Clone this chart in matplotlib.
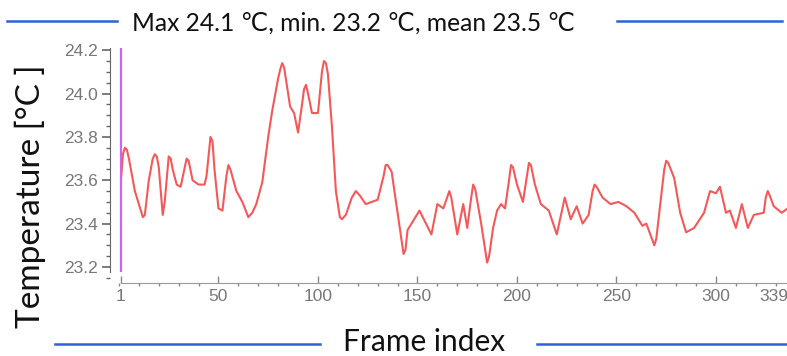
import numpy as np
import matplotlib
matplotlib.use("Agg")
import matplotlib.pyplot as plt
from matplotlib.ticker import MultipleLocator
from matplotlib.lines import Line2D
import matplotlib.transforms as mtransforms

# frame index / temperature
frames = [1, 2, 3, 4, 5, 8, 12, 13, 15, 17, 18, 19, 20, 22, 23, 25, 26, 27, 29, 31,
          34, 35, 37, 40, 43, 44, 46, 47, 48, 50, 52, 54, 55, 56, 59, 62, 65, 67, 69, 72,
          75, 77, 80, 81, 82, 83, 84, 86, 88, 90, 92, 93, 94, 95, 97, 100, 102, 103, 104, 105,
          107, 109, 111, 112, 114, 117, 119, 121, 124, 130, 133, 134, 135, 137, 140, 143, 144, 145, 151, 157,
          160, 163, 166, 167, 170, 173, 175, 177, 178, 179, 182, 185, 186, 188, 190, 192, 194, 196, 197, 198,
          200, 203, 205, 206, 207, 209, 212, 216, 220, 224, 227, 230, 233, 236, 238, 239, 240, 243, 247, 251,
          255, 259, 263, 265, 269, 270, 272, 274, 275, 276, 279, 282, 285, 289, 294, 297, 300, 302, 305, 307,
          310, 313, 316, 319, 324, 325, 326, 327, 329, 333, 336, 339]
temps = [23.60, 23.72, 23.75, 23.74, 23.70, 23.55, 23.43, 23.44, 23.60, 23.70, 23.72, 23.71, 23.66, 23.44, 23.50, 23.71, 23.70, 23.65, 23.58, 23.57,
         23.70, 23.69, 23.60, 23.58, 23.58, 23.62, 23.80, 23.78, 23.65, 23.47, 23.46, 23.62, 23.67, 23.65, 23.55, 23.50, 23.43, 23.45, 23.49, 23.59,
         23.80, 23.92, 24.07, 24.11, 24.14, 24.12, 24.06, 23.94, 23.91, 23.82, 23.95, 24.02, 24.04, 24.00, 23.91, 23.91, 24.10, 24.15, 24.14, 24.09,
         23.85, 23.55, 23.43, 23.42, 23.44, 23.52, 23.55, 23.53, 23.49, 23.51, 23.62, 23.67, 23.67, 23.64, 23.45, 23.26, 23.28, 23.37, 23.46, 23.35,
         23.49, 23.47, 23.55, 23.52, 23.35, 23.49, 23.38, 23.52, 23.58, 23.56, 23.40, 23.22, 23.25, 23.38, 23.46, 23.49, 23.47, 23.60, 23.67, 23.66,
         23.58, 23.50, 23.62, 23.68, 23.67, 23.58, 23.49, 23.46, 23.35, 23.52, 23.42, 23.48, 23.40, 23.44, 23.55, 23.58, 23.57, 23.52, 23.49, 23.50,
         23.48, 23.45, 23.39, 23.40, 23.30, 23.33, 23.49, 23.65, 23.69, 23.68, 23.61, 23.45, 23.36, 23.38, 23.45, 23.55, 23.54, 23.57, 23.45, 23.46,
         23.38, 23.49, 23.38, 23.44, 23.45, 23.52, 23.55, 23.53, 23.48, 23.45, 23.47, 23.46]

x_ticks = [1, 50, 100, 150, 200, 250, 300, 339]
y_ticks = [23.2, 23.4, 23.6, 23.8, 24.0, 24.2]

title_text = "Max 24.1 \u2103, min. 23.2 \u2103, mean 23.5 \u2103"
text_fonts = ["Lato", "DejaVu Sans"]

W, H = 787, 356
fig = plt.figure(figsize=(W / 100, H / 100), dpi=100)

# axes placed in pixel terms; right edge runs a little past the figure like the reference
ax = fig.add_axes([110 / W, 1 - 283 / H, (795 - 110) / W, (283 - 48) / H])
ax.plot(frames, temps, color="#f23c3c", lw=1.5, alpha=0.85,
        solid_joinstyle="round", solid_capstyle="round")
ax.vlines(1, 23.175, 24.21, color="#cc66ee", lw=1.6)

ax.set_xlim(-4.5, 339.7)
ax.set_ylim(23.126, 24.21)

for s in ["top", "right"]:
    ax.spines[s].set_visible(False)
ax.spines["left"].set_bounds(23.175, 24.21)
ax.spines["left"].set_color("#666666")
ax.spines["bottom"].set_bounds(1, 339)
ax.spines["bottom"].set_color("#999999")

ax.set_yticks(y_ticks)
ax.set_yticklabels([f"{v:.1f}" for v in y_ticks])
ax.yaxis.set_minor_locator(MultipleLocator(0.05))
ax.set_xticks(x_ticks)
ax.set_xticklabels([str(v) for v in x_ticks])
ax.xaxis.set_minor_locator(MultipleLocator(10))

ax.tick_params(axis="y", which="major", direction="out", length=6, width=1.2,
               color="#666666", labelcolor="#777777", labelsize=12.5, pad=3)
ax.tick_params(axis="y", which="minor", direction="out", length=3, width=1, color="#666666")
ax.tick_params(axis="x", which="major", direction="in", length=5, width=1,
               color="#888888", labelcolor="#777777", labelsize=12.5, pad=4)
ax.tick_params(axis="x", which="minor", direction="out", length=2, width=1, color="#888888")
for lab in ax.get_xticklabels() + ax.get_yticklabels():
    lab.set_fontfamily("Liberation Sans")

# last label is pulled left so it stays in view
last = ax.get_xticklabels()[-1]
offset = mtransforms.ScaledTranslation(-0.2, 0, fig.dpi_scale_trans)
last.set_transform(last.get_transform() + offset)

# title with blue rules either side
fig.text(353 / W, 1 - 23 / H, title_text, ha="center", va="center",
         fontsize=17.7, family=text_fonts, color="#111111")
blue = "#2f62d8"
fig.add_artist(Line2D([7 / W, 117 / W], [1 - 21 / H, 1 - 21 / H], color=blue, lw=1.8))
fig.add_artist(Line2D([617 / W, 782 / W], [1 - 21 / H, 1 - 21 / H], color=blue, lw=1.8))

# x label with blue rules
fig.text(424 / W, 1 - 351 / H, "Frame index", ha="center", va="baseline",
         fontsize=21.5, family=text_fonts, color="#111111")
fig.add_artist(Line2D([55 / W, 320 / W], [1 - 344 / H, 1 - 344 / H], color=blue, lw=1.8))
fig.add_artist(Line2D([537 / W, 787 / W], [1 - 344 / H, 1 - 344 / H], color=blue, lw=1.8))

# y label
fig.text(30 / W, 1 - 196 / H, "Temperature [\u00b0C ]", ha="center", va="center",
         rotation=90, fontsize=24, family=text_fonts, color="#111111")

fig.savefig("out.png", dpi=100)
